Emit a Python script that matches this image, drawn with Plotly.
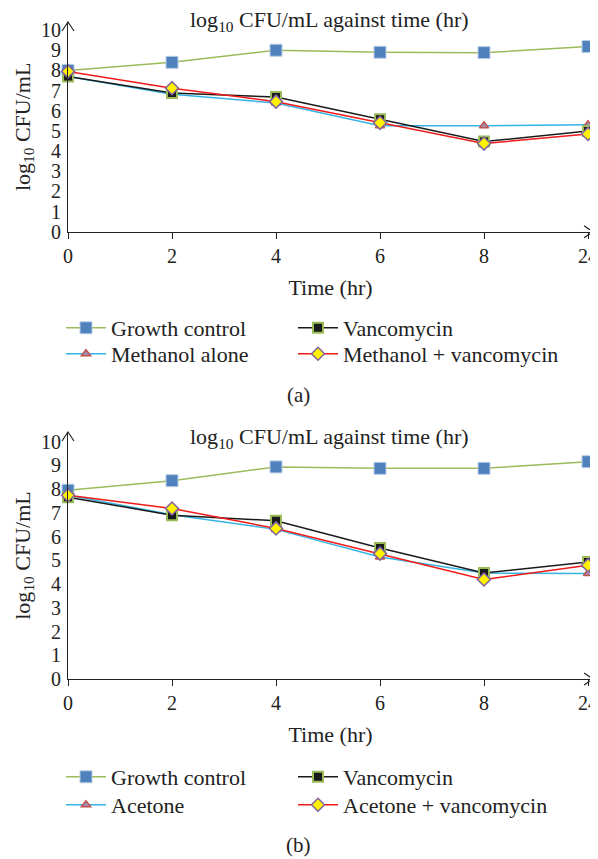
import plotly.graph_objects as go

# ---- data ----
time_labels = ["0", "2", "4", "6", "8", "24"]
y_ticks = [0, 1, 2, 3, 4, 5, 6, 7, 8, 9, 10]

# panel (a)
a_growth = [8.0, 8.4, 9.0, 8.9, 8.88, 9.18]
a_methanol = [7.7, 6.82, 6.38, 5.25, 5.25, 5.3]
a_vanco = [7.7, 6.88, 6.68, 5.58, 4.47, 4.99]
a_meth_vanco = [7.95, 7.12, 6.45, 5.4, 4.37, 4.85]

# panel (b)
b_growth = [7.95, 8.35, 8.93, 8.87, 8.87, 9.15]
b_acetone = [7.74, 6.92, 6.3, 5.14, 4.46, 4.44]
b_vanco = [7.65, 6.9, 6.66, 5.52, 4.46, 4.93]
b_acet_vanco = [7.74, 7.18, 6.34, 5.28, 4.19, 4.79]

names_a = ["Growth control", "Methanol alone", "Vancomycin", "Methanol + vancomycin"]
names_b = ["Growth control", "Acetone", "Vancomycin", "Acetone + vancomycin"]

FONT = "Liberation Serif"
OFF = 8  # page body margin
W, H = 598 - OFF, 859 - OFF

styles = [
    dict(line=dict(color="#9BBB59", width=1.5),
         marker=dict(symbol="square", size=12, color="#4F81BD", line=dict(color="#B9CDE5", width=1))),
    dict(line=dict(color="#35B3E3", width=1.5),
         marker=dict(symbol="triangle-up", size=8, color="#A093B5", line=dict(color="#C0504D", width=1.5))),
    dict(line=dict(color="#1A1A1A", width=1.5),
         marker=dict(symbol="square", size=10, color="#1A1A1A", line=dict(color="#9BBB59", width=2))),
    dict(line=dict(color="#F01A1A", width=1.5),
         marker=dict(symbol="diamond", size=10, color="#FFF200", line=dict(color="#8064A2", width=1.5))),
]


def px_x(p):
    return (p - OFF) / W


def px_y(p):
    return 1 - (p - OFF) / H


# legend grid: (column x, row) for each series
leg_cols = [61, 61, 293, 293]
leg_rows = [0, 1, 0, 1]
panel_leg_rows = [(328, 354), (777, 805)]

fig = go.Figure()
legend_layouts = {}
k = 0
for p, (names, series, xa, ya) in enumerate([
    (names_a, [a_growth, a_methanol, a_vanco, a_meth_vanco], "x", "y"),
    (names_b, [b_growth, b_acetone, b_vanco, b_acet_vanco], "x2", "y2"),
]):
    for nm, vals, st, cx, r in zip(names, series, styles, leg_cols, leg_rows):
        k += 1
        lname = "legend" if k == 1 else f"legend{k}"
        fig.add_trace(go.Scatter(
            x=time_labels, y=vals, name=nm, mode="lines+markers",
            line=st["line"], marker=st["marker"], xaxis=xa, yaxis=ya,
            legend=lname, cliponaxis=False,
        ))
        legend_layouts[lname] = dict(
            orientation="h", x=px_x(cx), xanchor="left", y=px_y(panel_leg_rows[p][r]), yanchor="middle",
            font=dict(family=FONT, size=22, color="#222222"), itemwidth=40,
            bgcolor="rgba(0,0,0,0)",
        )

x_dom = [px_x(68), px_x(593)]
xr = [0, 5.048]
ymax = 10.4

axis_common = dict(showline=True, linecolor="#222222", linewidth=1, showgrid=False, zeroline=False,
                   automargin=False,
                   tickfont=dict(family=FONT, size=20, color="#222222"))


def xaxis(anchor):
    return dict(domain=x_dom, type="category", range=xr, anchor=anchor,
                ticks="outside", ticklen=6, tickcolor="#222222",
                title=dict(text="Time (hr)", font=dict(family=FONT, size=22), standoff=13),
                **axis_common)


def yaxis(dom, anchor):
    return dict(domain=dom, range=[0, ymax], anchor=anchor,
                tickvals=y_ticks, ticks="", ticklabelstandoff=2,
                title=dict(text="log<sub>10</sub> CFU/mL", font=dict(family=FONT, size=22), standoff=4),
                **axis_common)


fig.update_layout(
    width=W, height=H,
    margin=dict(l=0, r=0, t=0, b=0),
    paper_bgcolor="white", plot_bgcolor="white",
    font=dict(family=FONT, color="#222222"),
    xaxis=xaxis("y"),
    yaxis=yaxis([px_y(231.7), px_y(22)], "x"),
    xaxis2=xaxis("y2"),
    yaxis2=yaxis([px_y(679), px_y(432)], "x2"),
    showlegend=True,
    **legend_layouts,
)

# titles inside plots, captions
for ty, cap, capy in [(21, "(a)", 395), (438, "(b)", 845)]:
    fig.add_annotation(text="log<sub>10</sub> CFU/mL against time (hr)", xref="paper", yref="paper",
                       x=px_x(330), y=px_y(ty), yanchor="middle", xanchor="center", showarrow=False,
                       font=dict(family=FONT, size=22, color="#222222"))
    fig.add_annotation(text=cap, xref="paper", yref="paper", x=px_x(298), y=px_y(capy),
                       yanchor="middle", xanchor="center",
                       showarrow=False, font=dict(family=FONT, size=21, color="#222222"))

# axis arrowheads (open chevrons)
for xref, yref in [("x domain", "y domain"), ("x2 domain", "y2 domain")]:
    fig.add_shape(type="path", xref=xref, yref=yref, xsizemode="pixel", ysizemode="pixel",
                  xanchor=1, yanchor=0, path="M-9,6 L0,0 L-9,-6",
                  line=dict(color="#222222", width=1.2))
    fig.add_shape(type="path", xref=xref, yref=yref, xsizemode="pixel", ysizemode="pixel",
                  xanchor=0, yanchor=1, path="M-6,-9 L0,0 L6,-9",
                  line=dict(color="#222222", width=1.2))

fig.write_html("out.html")
